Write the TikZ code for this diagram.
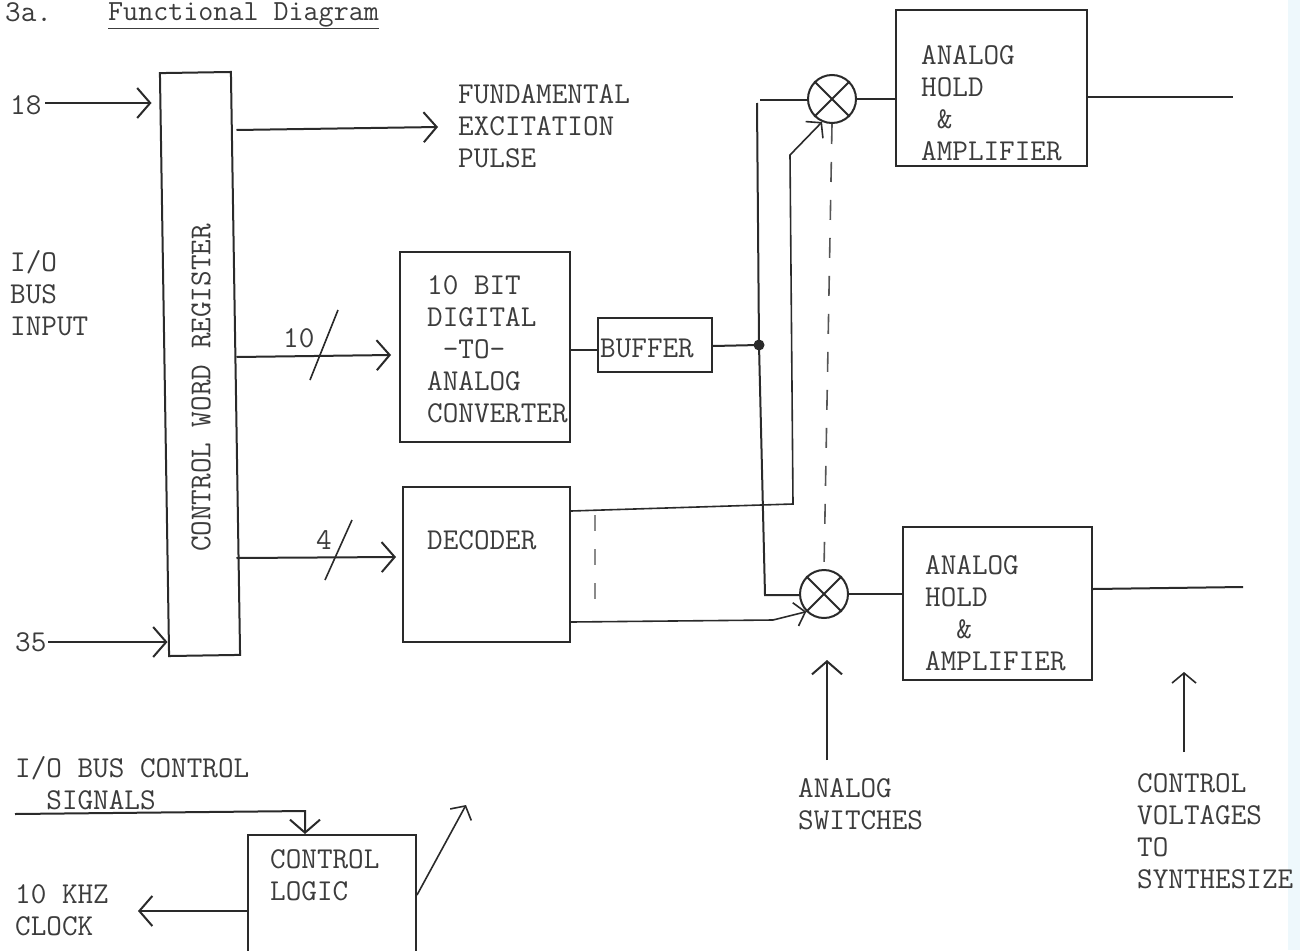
\documentclass[tikz,border=0pt]{standalone}
\usetikzlibrary{arrows.meta}
\definecolor{ink}{HTML}{2A2A2A}
\definecolor{txt}{HTML}{3C3C3C}
\definecolor{edge}{HTML}{EEF8FC}
\tikzset{
  x=1pt,y=-1pt,
  box/.style={draw=ink,line width=2pt,rectangle,inner sep=0pt},
  txtn/.style={inner sep=0pt,anchor=west,align=left,text=txt,font=\ttfamily\fontsize{30.3}{32}\selectfont},
  mixer/.style={draw=ink,line width=2pt,circle,inner sep=0pt,minimum size=48pt},
  wire/.style={draw=ink,line width=2pt},
  thin wire/.style={draw=ink,line width=1.6pt},
  arr/.style={wire,-{Straight Barb[length=13pt,width=30pt,line width=2pt]}},
  sarr/.style={thin wire,-{Straight Barb[length=10pt,width=24pt,line width=1.6pt]}},
  dashline/.style={draw=ink!80,line width=1.6pt,dash pattern=on 20pt off 18pt},
}
\begin{document}
\begin{tikzpicture}
\useasboundingbox (0,0) rectangle (1300,950);
\fill[white] (0,0) rectangle (1300,950);
\fill[edge] (1288,0) rectangle (1300,950);
% boxes
\node[box,minimum width=71pt,minimum height=583pt,rotate=0.9] (cwr) at (200,364) {};
\node[box,minimum width=170pt,minimum height=190pt] (dac) at (485,347) {};
\node[box,minimum width=114pt,minimum height=54pt] (buf) at (655,345) {};
\node[box,minimum width=167pt,minimum height=155pt] (dec) at (486.5,564.5) {};
\node[box,minimum width=191pt,minimum height=156pt] (ah1) at (991.5,88) {};
\node[box,minimum width=189pt,minimum height=153pt] (ah2) at (997.5,603.5) {};
\node[box,minimum width=168pt,minimum height=125pt] (ctl) at (332,897.5) {};
\node[mixer] (m1) at (832,99) {};
\node[mixer] (m2) at (824,594) {};
\draw[wire] (m1.45)--(m1.225) (m1.135)--(m1.315);
\draw[wire] (m2.45)--(m2.225) (m2.135)--(m2.315);
\fill[ink] (759,345) circle (5.5pt) coordinate (j);
% texts
\node[txtn,anchor=north west] (title) at (5,2) {3a.};
\node[txtn,anchor=north west] (titleb) at (108,2) {\fontsize{29.2}{32}\selectfont\underline{Functional Diagram}};
\node[txtn] (n18) at (10,105) {18};
\node[txtn] (n35) at (15,642) {35};
\node[txtn] (iobus) at (10,293) {I/O\\BUS\\INPUT};
\node[txtn] (fund) at (458,126) {FUNDAMENTAL\\EXCITATION\\PULSE};
\node[txtn,rotate=90,anchor=center] (cwrt) at (201,388) {CONTROL WORD REGISTER};
\node[txtn] (dact) at (427,349) {10 BIT\\DIGITAL\\~-TO-\\ANALOG\\CONVERTER};
\node[txtn] (buft) at (600,348) {BUFFER};
\node[txtn] (dect) at (427,540) {DECODER};
\node[txtn] (ah1t) at (921,103) {ANALOG\\HOLD\\~\&\\AMPLIFIER};
\node[txtn] (ah2t) at (925,613) {ANALOG\\HOLD\\~~\&\\AMPLIFIER};
\node[txtn] (ctlt) at (270,875) {CONTROL\\LOGIC};
\node[txtn] (n10) at (283,338) {10};
\node[txtn] (n4) at (316,540) {4};
\node[txtn] (sw) at (798,804) {ANALOG\\SWITCHES};
\node[txtn] (cv) at (1137,831) {CONTROL\\VOLTAGES\\TO\\SYNTHESIZE};
\node[txtn] (ioc) at (15,783) {I/O BUS CONTROL\\~~SIGNALS};
\node[txtn] (clk) at (15,910) {10 KHZ\\CLOCK};
% free ends and bends
\coordinate (a18) at (45,103);
\coordinate (a35) at (48,642);
\coordinate (exc) at (438,127);
\coordinate (busTop) at (760,100);
\coordinate (busCor) at (757,103);
\coordinate (busBot) at (765,595);
\coordinate (decU) at (793,504);
\coordinate (decK) at (790,155);
\coordinate (decL) at (773,620);
\coordinate (o1) at (1233,97);
\coordinate (o2) at (1243,587);
\coordinate (swS) at (827,760);
\coordinate (swE) at (827,660);
\coordinate (cvS) at (1184,752);
\coordinate (cvE) at (1184,672);
\coordinate (ioS) at (15,814);
\coordinate (ioK) at (305,811);
\coordinate (clkE) at (138,911);
\coordinate (ctlE) at (466,805);
% connectors
\draw[arr] (a18) -- ([xshift=-12pt]cwr.west |- a18);
\draw[arr] (a35) -- ([xshift=4pt]cwr.west |- a35);
\draw[arr] (cwr.east |- 0,130) -- (exc);
\draw[arr] (cwr.east |- 0,357) -- ([xshift=-8pt]dac.west |- 0,355);
\draw[arr] (cwr.east |- 0,558) -- ([xshift=-6pt]dec.west |- 0,557);
\coordinate (s1a) at (310,380); \coordinate (s1b) at (338,310);
\coordinate (s2a) at (325,580); \coordinate (s2b) at (352,520);
\draw[thin wire] (s1a) -- (s1b);
\draw[thin wire] (s2a) -- (s2b);
\draw[wire] (dac.east |- 0,350) -- (buf.west |- 0,350);
\draw[wire] (buf.east |- 0,346) -- (j);
\draw[wire] (busTop) -- (m1.west |- busTop);
\draw[wire] (busCor) -- (j) -- (busBot) -- (m2.west |- busBot);
\draw[sarr] (dec.east |- 0,511) -- (decU) -- (decK) -- ([xshift=-10pt,yshift=2pt]m1.south);
\draw[sarr] (dec.east |- 0,622) -- (decL) -- (m2.225);
\draw[dashline] (m1.south) -- (m2.north);
\coordinate (dd1) at (595,515); \coordinate (dd2) at (595,605);
\draw[draw=ink!55,line width=1.4pt,dash pattern=on 16pt off 18pt] (dd1) -- (dd2);
\draw[wire] (m1.east) -- (ah1.west |- m1.east);
\draw[wire] (m2.east) -- (ah2.west |- m2.east);
\draw[wire] (ah1.east |- o1) -- (o1);
\draw[wire] (ah2.east |- 0,589) -- (o2);
\draw[arr] (swS) -- (swE);
\draw[sarr] (cvS) -- (cvE);
\draw[arr] (ioS) -- (ioK) -- (ctl.north -| ioK);
\draw[arr] (ctl.west |- clkE) -- (clkE);
\draw[sarr] (ctl.east |- 0,895) -- (ctlE);
\end{tikzpicture}
\end{document}
